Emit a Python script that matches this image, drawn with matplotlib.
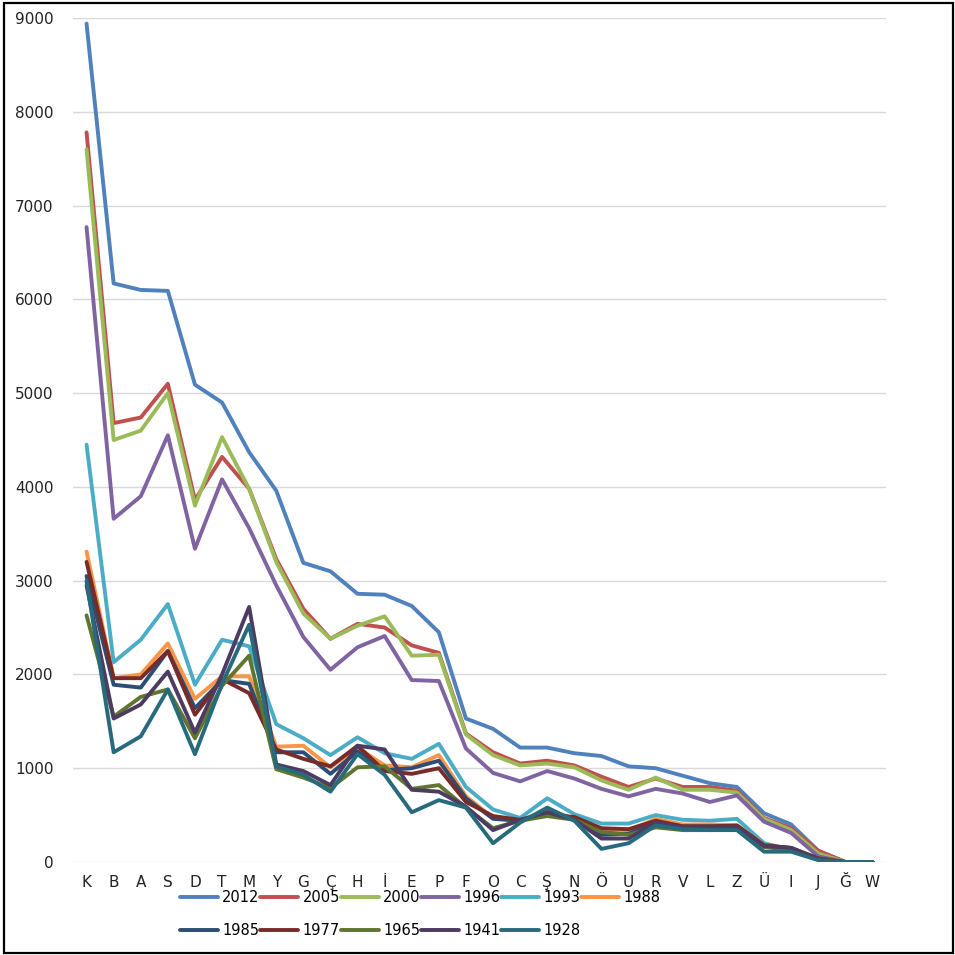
import matplotlib
matplotlib.use("Agg")
import matplotlib.pyplot as plt
from matplotlib.patches import Rectangle

categories = ["K", "B", "A", "S", "D", "T", "M", "Y", "G", "Ç", "H", "İ", "E", "P", "F",
              "O", "C", "Ş", "N", "Ö", "U", "R", "V", "L", "Z", "Ü", "I", "J", "Ğ", "W"]

y2012 = [8940, 6170, 6100, 6090, 5090, 4900, 4370, 3960, 3190, 3100, 2860, 2850, 2730, 2450, 1530,
         1420, 1220, 1220, 1160, 1130, 1020, 1000, 920, 840, 800, 520, 400, 120, 0, 0]
y2005 = [7780, 4680, 4740, 5100, 3860, 4320, 3980, 3230, 2700, 2380, 2540, 2500, 2310, 2230, 1370,
         1170, 1050, 1080, 1030, 910, 800, 890, 800, 800, 760, 470, 360, 120, 0, 0]
y2000 = [7600, 4500, 4600, 5000, 3800, 4530, 3980, 3200, 2650, 2380, 2520, 2620, 2200, 2210, 1360,
         1140, 1030, 1050, 1010, 870, 770, 900, 770, 770, 740, 460, 340, 90, 0, 0]
y1996 = [6770, 3660, 3900, 4550, 3340, 4080, 3560, 2950, 2400, 2050, 2290, 2410, 1940, 1930, 1210,
         950, 860, 970, 890, 780, 700, 780, 730, 640, 710, 430, 310, 60, 0, 0]
y1993 = [4450, 2130, 2370, 2750, 1890, 2370, 2300, 1470, 1320, 1140, 1330, 1160, 1100, 1260, 800,
         560, 470, 680, 510, 410, 410, 500, 450, 440, 460, 200, 130, 30, 0, 0]
y1988 = [3310, 1960, 2000, 2330, 1740, 1980, 1980, 1230, 1240, 1010, 1220, 1030, 1010, 1140, 700,
         470, 440, 560, 460, 330, 330, 460, 400, 400, 390, 180, 140, 30, 0, 0]
y1985 = [3050, 1890, 1860, 2250, 1640, 1940, 1900, 1170, 1170, 940, 1180, 980, 1000, 1080, 680,
         460, 440, 530, 470, 290, 300, 430, 380, 380, 380, 170, 150, 30, 0, 0]
y1977 = [3200, 1960, 1960, 2250, 1570, 1950, 1800, 1200, 1100, 1020, 1240, 970, 940, 1000, 640,
         490, 450, 500, 480, 360, 350, 440, 380, 380, 390, 180, 150, 40, 0, 0]
y1965 = [2630, 1550, 1760, 1840, 1320, 1880, 2200, 990, 900, 790, 1010, 1020, 780, 820, 580,
         360, 440, 490, 450, 320, 290, 370, 340, 340, 350, 160, 130, 30, 0, 0]
y1941 = [2950, 1530, 1680, 2030, 1380, 2000, 2720, 1040, 970, 820, 1240, 1200, 770, 750, 590,
         340, 450, 530, 450, 250, 250, 420, 370, 360, 370, 170, 150, 30, 0, 0]
y1928 = [3000, 1170, 1340, 1840, 1150, 1900, 2530, 1020, 930, 750, 1150, 930, 530, 660, 580,
         200, 420, 580, 440, 140, 200, 390, 350, 340, 340, 110, 110, 20, 0, 0]

series_names = ["2012", "2005", "2000", "1996", "1993", "1988", "1985", "1977", "1965", "1941", "1928"]
series_values = [y2012, y2005, y2000, y1996, y1993, y1988, y1985, y1977, y1965, y1941, y1928]
colors = ["#4F81BD", "#C0504D", "#9BBB59", "#8064A2", "#4BACC6", "#F79646",
          "#2C4D75", "#772C2A", "#5F7530", "#4D3B62", "#276A7C"]

fig = plt.figure(figsize=(9.55, 9.55), dpi=100)
ax = fig.add_axes([73/955, 1 - 862/955, (886-73)/955, (862-18)/955])

x = list(range(len(categories)))
handles = []
for name, vals, c in zip(series_names, series_values, colors):
    h, = ax.plot(x, vals, color=c, lw=2.8, label=name, solid_joinstyle="round",
                 solid_capstyle="round")
    handles.append(h)

ax.set_xlim(-0.5, len(categories) - 0.5)
ax.set_ylim(0, 9000)
ax.set_yticks(range(0, 9001, 1000))
ax.set_xticks(x)
ax.set_xticklabels(categories)
ax.tick_params(axis="both", length=0, labelsize=11, labelcolor="#222222")
ax.tick_params(axis="y", pad=14)
ax.tick_params(axis="x", pad=9)
for s in ax.spines.values():
    s.set_visible(False)
ax.grid(axis="y", color="#D9D9D9", lw=1)
ax.set_axisbelow(True)

# legend: row-major order via column-major reordering
order = [0, 6, 1, 7, 2, 8, 3, 9, 4, 10, 5]
leg = fig.legend([handles[i] for i in order], [series_names[i] for i in order],
                 ncol=6, loc="upper left", bbox_to_anchor=(180/955, 1 - 890/955),
                 frameon=False, fontsize=10.5, handlelength=2.6, handletextpad=0.3,
                 columnspacing=0.05, labelspacing=1.25, borderaxespad=0, borderpad=0)

fig.patches.append(Rectangle((4/955, 2/955), 949/955, 950/955, transform=fig.transFigure,
                             fill=False, edgecolor="black", lw=1.6))

fig.savefig("out.png", dpi=100)
